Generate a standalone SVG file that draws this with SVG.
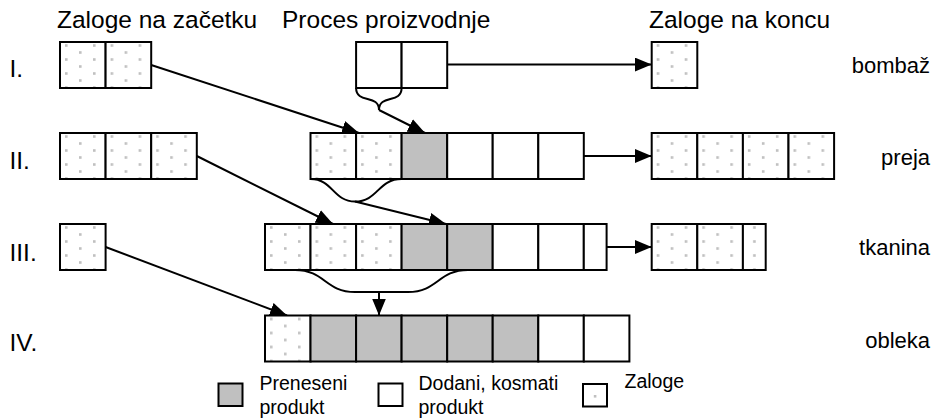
<svg xmlns="http://www.w3.org/2000/svg" xmlns:xlink="http://www.w3.org/1999/xlink" width="933" height="419" viewBox="0 0 933 419">
  <style>
    text { font-family: "Liberation Sans", Arial, sans-serif; fill: #000; }
    .head { font-size: 24.5px; }
    .row { font-size: 24.5px; }
    .mat { font-size: 22px; text-anchor: end; }
    .leg { font-size: 19.5px; }
    .cell { stroke: #000; stroke-width: 2; }
    .plain { fill: #fff; }
    .moved { fill: #c0c0c0; }
    .wire { fill: none; stroke: #000; stroke-width: 2; }
    .arrow { marker-end: url(#head); }
  </style>
  <defs>
    <!-- dotted fill used for stock cells -->
    <pattern id="dots" width="28" height="14" patternUnits="userSpaceOnUse">
      <rect x="5" y="2.2" width="2.6" height="2.6" fill="#c0c0c0"/>
      <rect x="19" y="9.2" width="2.6" height="2.6" fill="#c0c0c0"/>
    </pattern>
    <pattern id="dotsHalf" width="23" height="14" patternUnits="userSpaceOnUse">
      <rect x="10.2" y="2.2" width="2.6" height="2.6" fill="#c0c0c0"/>
    </pattern>
    <g id="stock">
      <rect width="45.6" height="46" fill="#fff"/>
      <rect class="cell" width="45.6" height="46" fill="url(#dots)"/>
    </g>
    <g id="stockHalf">
      <rect width="22.8" height="46" fill="#fff"/>
      <rect class="cell" width="22.8" height="46" fill="url(#dotsHalf)"/>
    </g>
    <marker id="head" viewBox="0 0 17 14" refX="17" refY="7" markerWidth="17" markerHeight="14" markerUnits="userSpaceOnUse" orient="auto">
      <path d="M0,0 L17,7 L0,14 Z" fill="#000"/>
    </marker>
  </defs>

  <rect width="933" height="419" fill="#fff"/>

  <!-- column headings -->
  <g id="headings">
    <text class="head" x="57" y="28">Zaloge na začetku</text>
    <text class="head" x="282" y="28">Proces proizvodnje</text>
    <text class="head" x="649" y="28">Zaloge na koncu</text>
  </g>

  <!-- row numbers -->
  <g id="row-labels">
    <text class="row" x="9.5" y="77">I.</text>
    <text class="row" x="9.5" y="169">II.</text>
    <text class="row" x="9.5" y="260.5">III.</text>
    <text class="row" x="9.5" y="351">IV.</text>
  </g>

  <!-- material names -->
  <g id="material-labels">
    <text class="mat" x="930" y="73">bombaž</text>
    <text class="mat" x="930" y="165">preja</text>
    <text class="mat" x="930" y="255">tkanina</text>
    <text class="mat" x="930" y="348">obleka</text>
  </g>

  <!-- connectors: braces and arrows -->
  <g id="connectors">
    <path class="wire" d="M356.1,88 C356.1,104 379,94 379,110 C379,94 401.6,104 401.6,88"/>
    <path class="wire" d="M310.5,179 C333,179 333,201.5 355,201.5 C378,201.5 378,179 401.6,179"/>
    <path class="wire" d="M265,270 L295,270 C325,270 325,292 355,292 L408,292 C438,292 438,270 468,270 L492.7,270"/>

    <path class="wire arrow" d="M447.2,64.5 L651.7,64.5"/>
    <path class="wire arrow" d="M583.8,156 L651.7,156"/>
    <path class="wire arrow" d="M606.6,247 L651.7,247"/>

    <path class="wire arrow" d="M151.2,65 L359,133"/>
    <path class="wire arrow" d="M379,110 L425,133"/>
    <path class="wire arrow" d="M196.8,156 L333,224"/>
    <path class="wire arrow" d="M355,201.5 L446,224"/>
    <path class="wire arrow" d="M379,292 L379,315.5"/>
    <path class="wire arrow" d="M105.6,247 L287,315.5"/>
  </g>

  <!-- I. bombaž -->
  <g id="cotton-start">
    <use xlink:href="#stock" x="60" y="42"/>
    <use xlink:href="#stock" x="105.6" y="42"/>
  </g>
  <g id="cotton-process">
    <rect class="cell plain" x="356.1" y="42" width="45.5" height="46"/>
    <rect class="cell plain" x="401.6" y="42" width="45.6" height="46"/>
  </g>
  <g id="cotton-end">
    <use xlink:href="#stock" x="651.7" y="42"/>
  </g>

  <!-- II. preja -->
  <g id="yarn-start">
    <use xlink:href="#stock" x="60" y="133"/>
    <use xlink:href="#stock" x="105.6" y="133"/>
    <use xlink:href="#stock" x="151.2" y="133"/>
  </g>
  <g id="yarn-process">
    <use xlink:href="#stock" x="310.5" y="133"/>
    <use xlink:href="#stock" x="356.1" y="133"/>
    <rect class="cell moved" x="401.6" y="133" width="45.6" height="46"/>
    <rect class="cell plain" x="447.2" y="133" width="45.5" height="46"/>
    <rect class="cell plain" x="492.7" y="133" width="45.6" height="46"/>
    <rect class="cell plain" x="538.3" y="133" width="45.5" height="46"/>
  </g>
  <g id="yarn-end">
    <use xlink:href="#stock" x="651.7" y="133"/>
    <use xlink:href="#stock" x="697.3" y="133"/>
    <use xlink:href="#stock" x="742.9" y="133"/>
    <use xlink:href="#stock" x="788.5" y="133"/>
  </g>

  <!-- III. tkanina -->
  <g id="fabric-start">
    <use xlink:href="#stock" x="60" y="224"/>
  </g>
  <g id="fabric-process">
    <use xlink:href="#stock" x="265" y="224"/>
    <use xlink:href="#stock" x="310.5" y="224"/>
    <use xlink:href="#stock" x="356.1" y="224"/>
    <rect class="cell moved" x="401.6" y="224" width="45.6" height="46"/>
    <rect class="cell moved" x="447.2" y="224" width="45.5" height="46"/>
    <rect class="cell plain" x="492.7" y="224" width="45.6" height="46"/>
    <rect class="cell plain" x="538.3" y="224" width="45.5" height="46"/>
    <rect class="cell plain" x="583.8" y="224" width="22.8" height="46"/>
  </g>
  <g id="fabric-end">
    <use xlink:href="#stock" x="651.7" y="224"/>
    <use xlink:href="#stock" x="697.3" y="224"/>
    <use xlink:href="#stockHalf" x="742.9" y="224"/>
  </g>

  <!-- IV. obleka -->
  <g id="garment-process">
    <use xlink:href="#stock" x="265" y="315.5"/>
    <rect class="cell moved" x="310.5" y="315.5" width="45.6" height="46"/>
    <rect class="cell moved" x="356.1" y="315.5" width="45.5" height="46"/>
    <rect class="cell moved" x="401.6" y="315.5" width="45.6" height="46"/>
    <rect class="cell moved" x="447.2" y="315.5" width="45.5" height="46"/>
    <rect class="cell moved" x="492.7" y="315.5" width="45.6" height="46"/>
    <rect class="cell plain" x="538.3" y="315.5" width="45.5" height="46"/>
    <rect class="cell plain" x="583.8" y="315.5" width="45.6" height="46"/>
  </g>

  <!-- legend -->
  <g id="legend-moved">
    <rect class="cell moved" x="218.5" y="383.5" width="24" height="22.5"/>
    <text class="leg" x="259.5" y="390">Preneseni</text>
    <text class="leg" x="259.5" y="414">produkt</text>
  </g>
  <g id="legend-added">
    <rect class="cell plain" x="378.5" y="383.5" width="24" height="22.5"/>
    <text class="leg" x="418.5" y="390">Dodani, kosmati</text>
    <text class="leg" x="418.5" y="414">produkt</text>
  </g>
  <g id="legend-stock">
    <rect class="cell plain" x="583" y="384" width="24" height="22.5"/>
    <rect x="593.8" y="395" width="2.6" height="2.6" fill="#c0c0c0"/>
    <text class="leg" x="624.5" y="388">Zaloge</text>
  </g>
</svg>
